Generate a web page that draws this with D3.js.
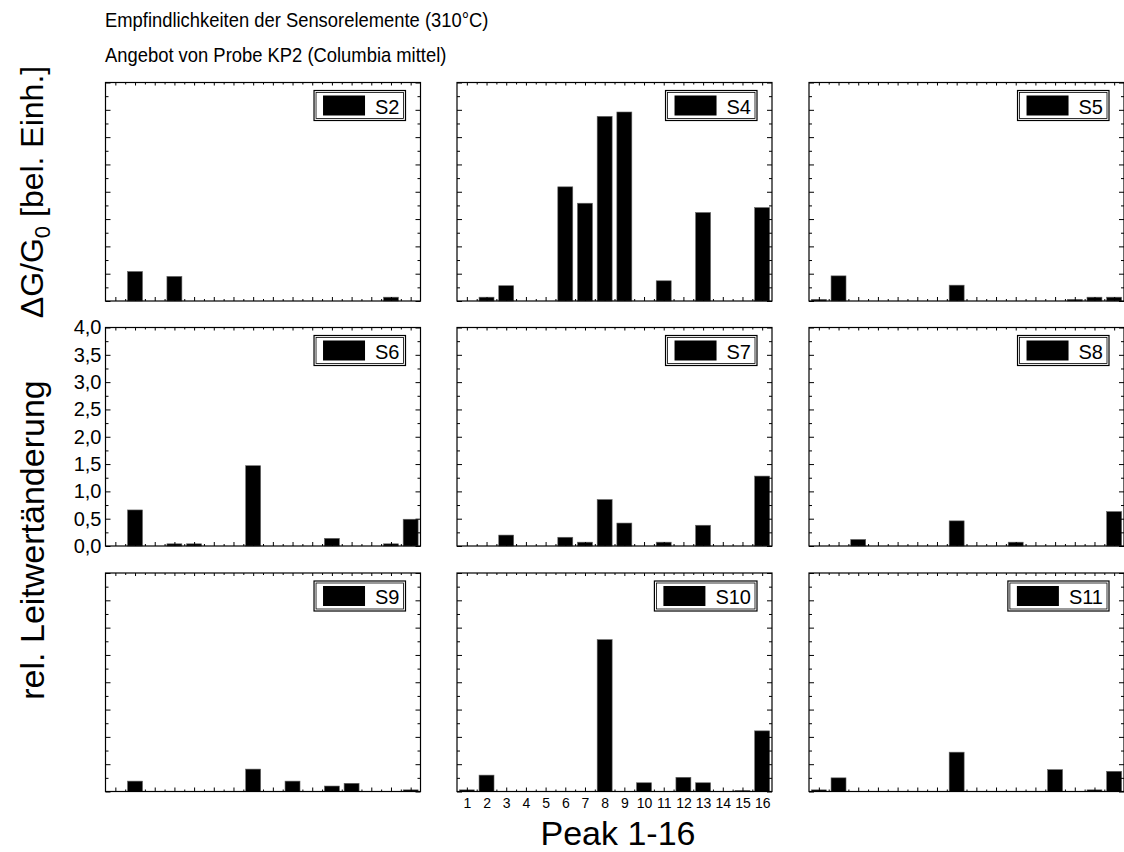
<!DOCTYPE html>
<html><head><meta charset="utf-8">
<script src="https://cdn.jsdelivr.net/npm/d3@7"></script>
<style>body{margin:0;background:#fff}svg{display:block;font-family:"Liberation Sans",Arial,sans-serif}</style>
</head><body><svg id="c" width="1124" height="852"></svg>
<script>
const peaks = [1,2,3,4,5,6,7,8,9,10,11,12,13,14,15,16];
const sensors = ["S2","S4","S5","S6","S7","S8","S9","S10","S11"];
const s2  = [0,0.54,0,0.45,0,0,0,0,0,0,0,0,0,0,0.07,0];
const s4  = [0,0.07,0.28,0,0,2.09,1.79,3.38,3.46,0,0.37,0,1.62,0,0,1.71];
const s5  = [0.03,0.46,0,0,0,0,0,0.29,0,0,0,0,0,0.03,0.07,0.07];
const s6  = [0,0.66,0,0.04,0.04,0,0,1.47,0,0,0,0.14,0,0,0.04,0.49];
const s7  = [0,0,0.20,0,0,0.16,0.07,0.85,0.42,0,0.07,0,0.38,0,0,1.28];
const s8  = [0,0,0.12,0,0,0,0,0.46,0,0,0.07,0,0,0,0,0.63];
const s9  = [0,0.19,0,0,0,0,0,0.41,0,0.19,0,0.10,0.15,0,0,0.03];
const s10 = [0.03,0.30,0,0,0,0,0,2.78,0,0.16,0,0.26,0.16,0,0.02,1.11];
const s11 = [0.03,0.25,0,0,0,0,0,0.72,0,0,0,0,0.40,0,0.03,0.37];
const seriesValues = [s2,s4,s5,s6,s7,s8,s9,s10,s11];
const yMajorTicks = [0,0.5,1,1.5,2,2.5,3,3.5,4];
const yMinorTicks = [0.25,0.75,1.25,1.75,2.25,2.75,3.25,3.75];
const yTickLabels = ["0,0","0,5","1,0","1,5","2,0","2,5","3,0","3,5","4,0"];
const xMinorTicks = [1.5,2.5,3.5,4.5,5.5,6.5,7.5,8.5,9.5,10.5,11.5,12.5,13.5,14.5,15.5];
const titleLines = ["Empfindlichkeiten der Sensorelemente (310°C)","Angebot von Probe KP2 (Columbia mittel)"];

const svg = d3.select("#c");
const colX = [105.5, 457, 809];
const rowY = [82.5, 327.5, 573];
const W = 315, H = 218.5;

svg.append("g").attr("transform","translate(105,0) scale(0.92,1)")
  .selectAll("text").data(titleLines).join("text")
  .attr("x",0).attr("y",(d,i)=>27+i*35).attr("font-size",20).attr("fill","#000").text(d=>d);

sensors.forEach((name,i)=>{
  const col=i%3,row=Math.floor(i/3);
  const g=svg.append("g").attr("transform",`translate(${colX[col]},${rowY[row]})`);
  const x=d3.scaleLinear().domain([0.5,16.5]).range([0,W]);
  const y=d3.scaleLinear().domain([0,4]).range([H,0]);
  const bw=(x(1)-x(0))*0.76;
  const vals=seriesValues[i];
  g.append("g").selectAll("rect").data(peaks.map((p,j)=>({p,v:vals[j]})).filter(d=>d.v>0)).join("rect")
    .attr("x",d=>x(d.p)-bw/2).attr("y",d=>y(d.v)).attr("width",bw).attr("height",d=>H-y(d.v))
    .attr("fill","#000").attr("stroke","#666").attr("stroke-width",0.6);
  const showY = name==="S6", showX = name==="S10";
  const fmt = d=>yTickLabels[yMajorTicks.indexOf(d)];
  const ax=[
    g.append("g").call(d3.axisLeft(y).tickValues(yMajorTicks).tickSize(-5).tickPadding(4).tickFormat(showY?fmt:()=>"")),
    g.append("g").call(d3.axisLeft(y).tickValues(yMinorTicks).tickSize(-3).tickFormat(()=>"")),
    g.append("g").attr("transform",`translate(${W},0)`).call(d3.axisRight(y).tickValues(yMajorTicks).tickSize(-5).tickFormat(()=>"")),
    g.append("g").attr("transform",`translate(${W},0)`).call(d3.axisRight(y).tickValues(yMinorTicks).tickSize(-3).tickFormat(()=>"")),
    g.append("g").attr("transform",`translate(0,${H})`).call(d3.axisBottom(x).tickValues(peaks).tickSize(-4).tickPadding(7).tickFormat(showX?d3.format("d"):()=>"")),
    g.append("g").attr("transform",`translate(0,${H})`).call(d3.axisBottom(x).tickValues(xMinorTicks).tickSize(-2).tickFormat(()=>"")),
    g.append("g").call(d3.axisTop(x).tickValues(peaks).tickSize(-3).tickFormat(()=>"")),
    g.append("g").call(d3.axisTop(x).tickValues(xMinorTicks).tickSize(-2).tickFormat(()=>""))
  ];
  ax.forEach(a=>{a.select(".domain").remove();a.selectAll("line").attr("stroke","#000");a.selectAll("text").attr("fill","#000").attr("font-family",null);});
  ax[0].selectAll("text").attr("font-size",20);
  ax[4].selectAll("text").attr("font-size",14);
  g.append("rect").attr("width",W).attr("height",H).attr("fill","none").attr("stroke","#000").attr("stroke-width",1.2);
  // legend
  const lg=g.append("g");
  const t=lg.append("text").attr("font-size",20).attr("fill","#000").text(name);
  const tw=t.node().getComputedTextLength();
  const bwid=9+42+10+tw+6, bx=W-15-bwid, by=8;
  lg.insert("rect","text").attr("x",bx).attr("y",by).attr("width",bwid).attr("height",30).attr("fill","#fff").attr("stroke","#000").attr("stroke-width",1.2);
  lg.insert("rect","text").attr("x",bx+2).attr("y",by+2).attr("width",bwid-4).attr("height",26).attr("fill","none").attr("stroke","#000").attr("stroke-width",0.8);
  lg.insert("rect","text").attr("x",bx+9).attr("y",by+5).attr("width",42).attr("height",20).attr("fill","#000");
  t.attr("x",bx+61).attr("y",by+23);
});

// axis titles
svg.append("text").attr("transform","translate(44,540) rotate(-90)").attr("text-anchor","middle")
  .attr("font-size",34).attr("fill","#000").text("rel. Leitwertänderung");
const yl=svg.append("text").attr("transform","translate(43,192) rotate(-90)").attr("text-anchor","middle")
  .attr("font-size",32).attr("fill","#000");
yl.append("tspan").text("ΔG/G");
yl.append("tspan").attr("font-size",22).attr("dy",7).text("0");
yl.append("tspan").attr("dy",-7).text(" [bel. Einh.]");
svg.append("text").attr("x",618).attr("y",845).attr("text-anchor","middle").attr("font-size",34).attr("fill","#000").text("Peak 1-16");
</script></body></html>
